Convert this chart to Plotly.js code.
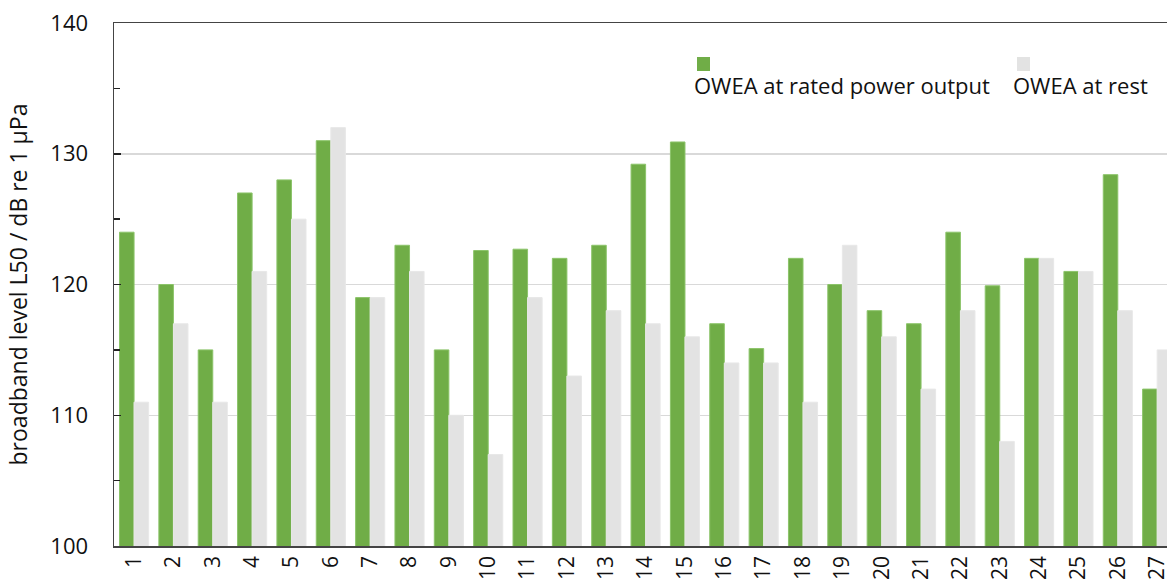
<!DOCTYPE html>
<html>
<head>
<meta charset="utf-8">
<script src="https://cdn.plot.ly/plotly-3.0.1.min.js"></script>
<style>html,body{margin:0;padding:0;background:#fff;}#chart{width:1167px;height:582px;}</style>
</head>
<body>
<div id="chart"></div>
<script>
var categories = ["1","2","3","4","5","6","7","8","9","10","11","12","13","14","15","16","17","18","19","20","21","22","23","24","25","26","27"];
var ratedPower = [124,120,115,127,128,131,119,123,115,122.6,122.7,122,123,129.2,130.9,117,115.1,122,120,118,117,124,119.9,122,121,128.4,112];
var atRest = [111,117,111,121,125,132,119,121,110,107,119,113,118,117,116,114,114,111,123,116,112,118,108,122,121,118,115];
var seriesNames = ["OWEA at rated power output", "OWEA at rest"];
var yTitle = "broadband level L50 / dB re 1 µPa";

var green = "#70AD47", grey = "#E3E3E3";
var fontFam = "Open Sans, DejaVu Sans, sans-serif";

var traces = [
  {type:"bar", x:categories, y:ratedPower, name:seriesNames[0], marker:{color:green, line:{color:"#8cc46a", width:1}}, showlegend:false},
  {type:"bar", x:categories, y:atRest, name:seriesNames[1], marker:{color:grey, line:{color:"#e8e8e8", width:1}}, showlegend:false}
];

var layout = {
  width:1167, height:582,
  margin:{l:114, r:0, t:23, b:36},
  paper_bgcolor:"#fff", plot_bgcolor:"#fff",
  barmode:"group", bargap:0.26, bargroupgap:0,
  font:{family:fontFam, color:"#222"},
  xaxis:{
    type:"category", range:[-0.51, 26.25],
    showline:true, linecolor:"#444", linewidth:1.5, mirror:true,
    ticks:"", tickangle:-90, tickfont:{size:21, color:"#111"},
    showgrid:false, fixedrange:true
  },
  yaxis:{
    range:[100,140], dtick:10, tick0:100,
    showline:true, linecolor:"#444", linewidth:1.5,
    ticks:"inside", ticklen:7, tickcolor:"#222", tickwidth:1.5,
    minor:{dtick:5, ticks:"inside", ticklen:6, tickcolor:"#222", showgrid:false},
    gridcolor:"#d9d9d9", gridwidth:1.5,
    tickfont:{size:22, color:"#111"}, ticklabelstandoff:20,
    zeroline:false,
    title:{text:yTitle, font:{size:23, color:"#111"}, standoff:16},
    automargin:false
  },
  shapes:[
    {type:"rect", xref:"paper", yref:"paper", x0:(697-114)/1053, x1:(710-114)/1053, y0:(546-71)/523, y1:(546-57)/523, fillcolor:green, line:{width:0}},
    {type:"rect", xref:"paper", yref:"paper", x0:(1017-114)/1053, x1:(1030-114)/1053, y0:(546-71)/523, y1:(546-57)/523, fillcolor:grey, line:{width:0}}
  ],
  annotations:[
    {xref:"paper", yref:"paper", x:(692-114)/1053, y:(546-85)/523, xanchor:"left", yanchor:"middle", text:seriesNames[0], showarrow:false, font:{size:22, color:"#111", family:fontFam}},
    {xref:"paper", yref:"paper", x:(1011-114)/1053, y:(546-85)/523, xanchor:"left", yanchor:"middle", text:seriesNames[1], showarrow:false, font:{size:22, color:"#111", family:fontFam}}
  ]
};

Plotly.newPlot("chart", traces, layout, {displayModeBar:false, staticPlot:true});
</script>
</body>
</html>
